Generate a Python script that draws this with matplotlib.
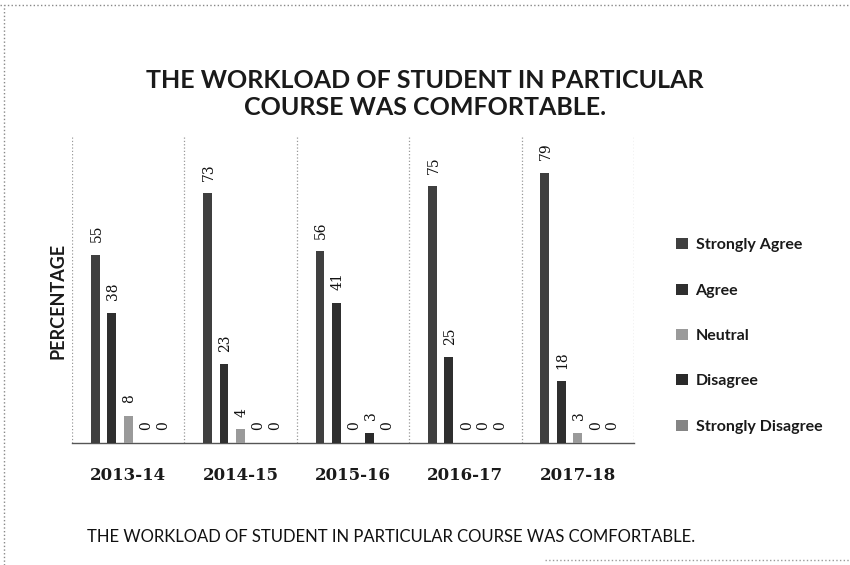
import numpy as np
import matplotlib.pyplot as plt
from matplotlib.lines import Line2D
from matplotlib.patches import Patch

# Survey results per academic year (percentages)
years = ['2013-14', '2014-15', '2015-16', '2016-17', '2017-18']
responses = ['Strongly Agree', 'Agree', 'Neutral', 'Disagree', 'Strongly Disagree']
strongly_agree = [55, 73, 56, 75, 79]
agree = [38, 23, 41, 25, 18]
neutral = [8, 4, 0, 0, 3]
disagree = [0, 0, 3, 0, 0]
strongly_disagree = [0, 0, 0, 0, 0]

series = [strongly_agree, agree, neutral, disagree, strongly_disagree]
colors = ['#3f3f3f', '#2f2f2f', '#9a9a9a', '#2a2a2a', '#858585']

title = 'THE WORKLOAD OF STUDENT IN PARTICULAR\nCOURSE WAS COMFORTABLE.'
caption = 'THE WORKLOAD OF STUDENT IN PARTICULAR COURSE WAS COMFORTABLE.'

fig = plt.figure(figsize=(8.5, 5.65), dpi=100)
ax = fig.add_axes([72 / 850, 1 - 443 / 565, 562 / 850, 308 / 565])

x = np.arange(len(years))
pitch = 0.147
width = 0.078
for i, (vals, col) in enumerate(zip(series, colors)):
    pos = x + (i - 2) * pitch
    ax.bar(pos, vals, width=width, color=col, zorder=3)
    for px, v in zip(pos, vals):
        ax.annotate(str(v), (px, v), xytext=(1, 9), textcoords='offset points',
                    rotation=90, ha='center', va='bottom',
                    fontsize=10, family='DejaVu Serif', color='#111111')

ax.set_xlim(-0.5, len(years) - 0.5)
ax.set_ylim(0, 90)
ax.set_yticks([])
ax.set_xticks(x)
ax.set_xticklabels(years, family='DejaVu Serif', fontsize=12, fontweight='semibold', color='#1a1a1a')
ax.tick_params(axis='x', length=0, pad=17)
ax.set_xticks(np.arange(len(years) + 1) - 0.5, minor=True)
ax.tick_params(axis='x', which='minor', length=0)
ax.grid(axis='x', which='minor', linestyle=':', color='#999999', linewidth=0.9, zorder=0)
for s in ['top', 'left', 'right']:
    ax.spines[s].set_visible(False)
ax.spines['bottom'].set_color('#555555')
ax.spines['bottom'].set_linewidth(1.0)

fig.text(58 / 850, 1 - 301 / 565, 'PERCENTAGE', rotation=90, ha='center', va='center',
         family='Lato', fontweight='bold', fontsize=13, color='#1a1a1a')

fig.text(425 / 850, 1 - 94 / 565, title, ha='center', va='center', linespacing=1.25,
         family='Lato', fontweight='bold', fontsize=18, color='#1a1a1a')

fig.text(391 / 850, 1 - 537 / 565, caption, ha='center', va='center',
         family='Lato', fontsize=12, color='#111111')

handles = [Patch(facecolor=c, edgecolor='none') for c in colors]
fig.legend(handles, responses, loc='center left', bbox_to_anchor=(662 / 850, 1 - 336 / 565),
           frameon=False, labelspacing=1.95, handlelength=0.7, handleheight=0.7,
           handletextpad=0.5, prop={'family': 'Lato', 'weight': 'bold', 'size': 11.5},
           labelcolor='#1a1a1a')

# page border remnants from the scan
fig.add_artist(Line2D([0, 1], [1 - 5 / 565] * 2, transform=fig.transFigure,
                      linestyle=':', color='#888888', linewidth=1))
fig.add_artist(Line2D([4 / 850] * 2, [0, 1 - 5 / 565], transform=fig.transFigure,
                      linestyle=':', color='#888888', linewidth=1))
fig.add_artist(Line2D([545 / 850, 1], [1 - 560 / 565] * 2, transform=fig.transFigure,
                      linestyle=':', color='#999999', linewidth=1))

fig.savefig('out.png', dpi=100)
